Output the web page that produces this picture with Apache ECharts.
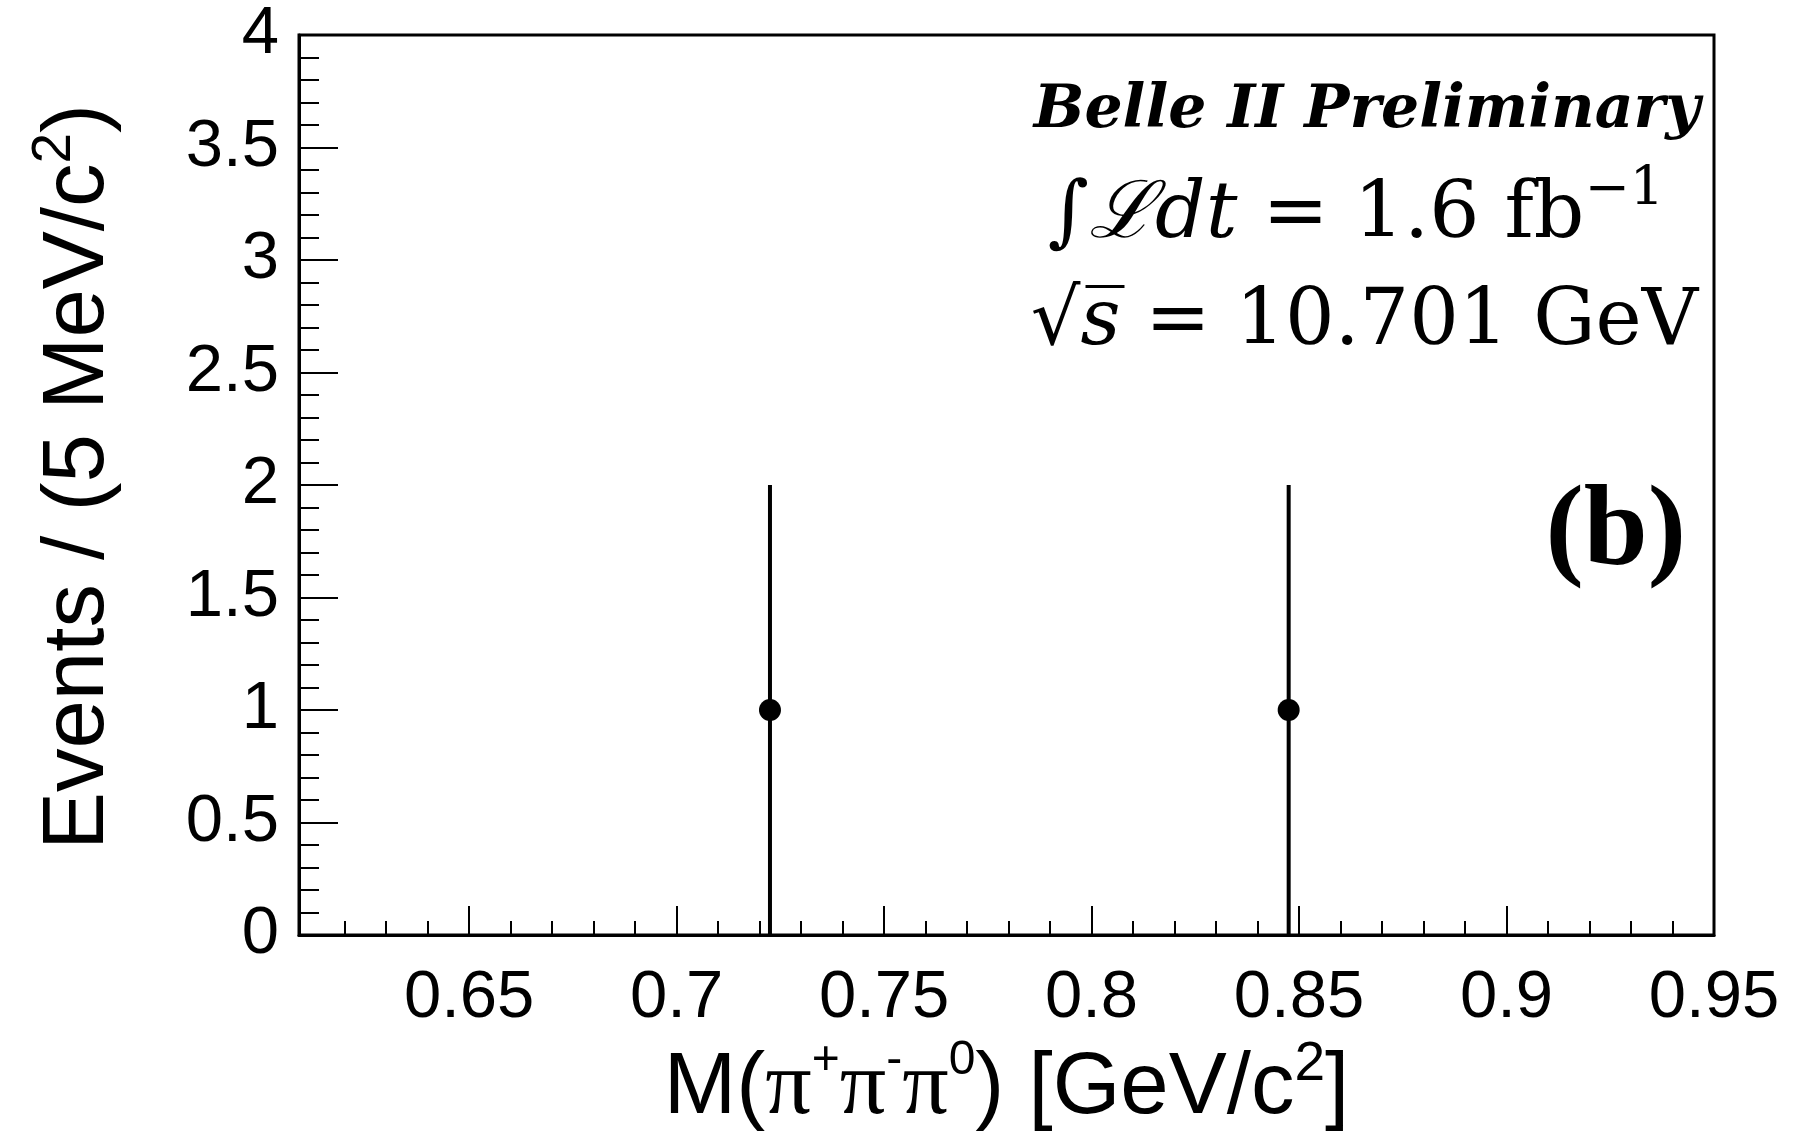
<!DOCTYPE html>
<html><head><meta charset="utf-8">
<script src="https://cdn.jsdelivr.net/npm/echarts@6/dist/echarts.min.js"></script>
<style>html,body{margin:0;padding:0;background:#fff;}#c{width:1803px;height:1145px;}</style>
</head><body><div id="c"></div>
<script>
// ---- data ----
const binCenters = [0.7225, 0.8475];
const counts = [1, 1];
const errLow = [1, 1];
const errHigh = [1, 1];
const xRange = [0.609, 0.95];
const yRange = [0, 4];
const xMajorTicks = [0.65, 0.70, 0.75, 0.80, 0.85, 0.90, 0.95];
const xTickLabels = ['0.65', '0.7', '0.75', '0.8', '0.85', '0.9', '0.95'];
const xMinorTicks = [0.62, 0.63, 0.64, 0.66, 0.67, 0.68, 0.69, 0.71, 0.72, 0.73, 0.74,
  0.76, 0.77, 0.78, 0.79, 0.81, 0.82, 0.83, 0.84, 0.86, 0.87, 0.88, 0.89, 0.91, 0.92, 0.93, 0.94];
const yTickValues = [0, 0.5, 1, 1.5, 2, 2.5, 3, 3.5, 4];
const yTickLabels = ['0', '0.5', '1', '1.5', '2', '2.5', '3', '3.5', '4'];

const SANS = '"Liberation Sans", Arial, sans-serif';
const SERIF = '"DejaVu Serif", serif';

const chart = echarts.init(document.getElementById('c'), null, {renderer: 'canvas'});

const titleRich = {
  n: {fontFamily: SANS, fontSize: 87, lineHeight: 104, color: '#000'},
  p: {fontFamily: '"Liberation Serif", serif', fontSize: 92, lineHeight: 104, color: '#000'},
  a: {fontFamily: SANS, fontSize: 48, lineHeight: 62, verticalAlign: 'top', color: '#000'},
  s: {fontFamily: SANS, fontSize: 55, lineHeight: 55, verticalAlign: 'top', color: '#000'}
};

const option = {
  backgroundColor: '#fff',
  animation: false,
  grid: {left: 299, right: 89, top: 35, bottom: 210, show: true, borderColor: '#000', borderWidth: 3, backgroundColor: 'transparent'},
  xAxis: [{
    type: 'value', min: xRange[0], max: xRange[1], position: 'bottom',
    axisLine: {show: true, onZero: false, lineStyle: {color: '#000', width: 3}},
    axisTick: {show: true, inside: true, length: 29, customValues: xMajorTicks, lineStyle: {color: '#000', width: 2}},
    axisLabel: {show: true, customValues: xMajorTicks, margin: 30,
      formatter: v => { const i = xMajorTicks.findIndex(t => Math.abs(t - v) < 1e-6); return i >= 0 ? xTickLabels[i] : ''; },
      fontFamily: SANS, fontSize: 67, color: '#000'},
    splitLine: {show: false},
    name: '{n|M(}{p|π}{a|+}{p|π}{a|-}{p|π}{a|0}{n|) [GeV/c}{s|2}{n|]}',
    nameLocation: 'middle', nameGap: 91,
    nameTextStyle: {rich: titleRich, fontFamily: SANS, fontSize: 87, color: '#000'}
  }, {
    type: 'value', min: xRange[0], max: xRange[1], position: 'bottom',
    axisLine: {show: false},
    axisTick: {show: true, inside: true, length: 14, customValues: xMinorTicks, lineStyle: {color: '#000', width: 2}},
    axisLabel: {show: false},
    splitLine: {show: false}
  }],
  yAxis: {
    type: 'value', min: yRange[0], max: yRange[1], interval: 0.5,
    axisLine: {show: true, onZero: false, lineStyle: {color: '#000', width: 3}},
    axisTick: {show: true, inside: true, length: 39, lineStyle: {color: '#000', width: 2}},
    minorTick: {show: true, splitNumber: 5, length: 20, lineStyle: {color: '#000', width: 2}},
    axisLabel: {margin: 20, fontFamily: SANS, fontSize: 67, color: '#000',
      formatter: v => { const i = yTickValues.findIndex(t => Math.abs(t - v) < 1e-6); return i >= 0 ? yTickLabels[i] : ''; }},
    splitLine: {show: false},
    name: '{n|Events / (5 MeV/c}{s|2}{n|)}',
    nameLocation: 'middle', nameRotate: 90, nameGap: 168,
    nameTextStyle: {rich: titleRich, fontFamily: SANS, fontSize: 87, color: '#000', padding: [0, 0, 0, 16]}
  },
  series: [{
    type: 'custom',
    xAxisIndex: 0, yAxisIndex: 0,
    data: binCenters.map((x, i) => [x, counts[i] - errLow[i], counts[i] + errHigh[i]]),
    renderItem: (params, api) => {
      const p1 = api.coord([api.value(0), api.value(1)]);
      const p2 = api.coord([api.value(0), api.value(2)]);
      return {type: 'line', shape: {x1: p1[0], y1: p1[1], x2: p2[0], y2: p2[1]},
        style: {stroke: '#000', lineWidth: 4}};
    },
    z: 3
  }, {
    type: 'scatter',
    xAxisIndex: 0, yAxisIndex: 0,
    data: binCenters.map((x, i) => [x, counts[i]]),
    symbol: 'circle', symbolSize: 22,
    itemStyle: {color: '#000', opacity: 1},
    z: 4
  }],
  graphic: [{
    type: 'text', x: 1700, y: 111,
    style: {text: 'Belle II Preliminary', font: 'italic bold 60px "DejaVu Serif", serif', fill: '#000', align: 'right', verticalAlign: 'middle'}
  }, {
    type: 'text', x: 1664, y: 164,
    style: {
      text: '{i|∫ℒ}{i|dt}{r| = 1.6 fb}{s|−1}', align: 'right', verticalAlign: 'top', fill: '#000',
      rich: {
        i: {fontFamily: SERIF, fontStyle: 'italic', fontSize: 79, lineHeight: 104, fill: '#000'},
        r: {fontFamily: SERIF, fontSize: 79, lineHeight: 104, fill: '#000'},
        s: {fontFamily: SERIF, fontSize: 54, lineHeight: 54, verticalAlign: 'top', fill: '#000'}
      }
    }
  }, {
    type: 'text', x: 1698, y: 324,
    style: {
      text: '{r|√}{i|s̅}{r| = 10.701 GeV}', align: 'right', verticalAlign: 'middle', fill: '#000',
      rich: {
        i: {fontFamily: SERIF, fontStyle: 'italic', fontSize: 78, fill: '#000'},
        r: {fontFamily: SERIF, fontSize: 78, fill: '#000'}
      }
    }
  }, {
    type: 'text', x: 1686, y: 534,
    style: {text: '(b)', font: 'bold 115px "Liberation Serif", serif', fill: '#000', align: 'right', verticalAlign: 'middle'}
  }]
};
chart.setOption(option);
</script>
</body></html>
